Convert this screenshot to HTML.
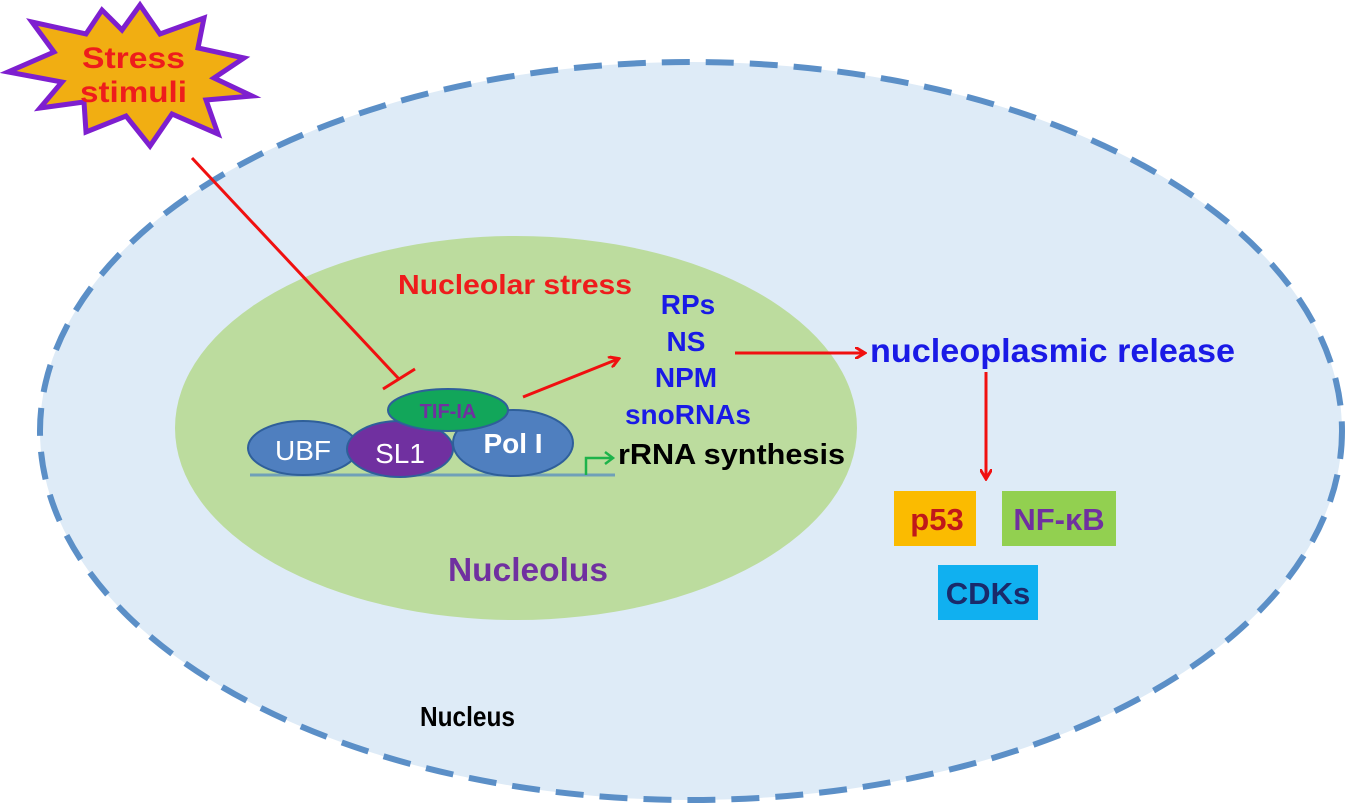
<!DOCTYPE html>
<html><head><meta charset="utf-8"><style>
body{margin:0;background:#fff;}
svg{display:block;font-family:"Liberation Sans",Arial,sans-serif;font-weight:bold;}
</style></head><body>
<svg width="1355" height="811" viewBox="0 0 1355 811" xmlns="http://www.w3.org/2000/svg">
<defs>
<marker id="ar" markerWidth="12" markerHeight="12" refX="9" refY="6" orient="auto" markerUnits="userSpaceOnUse"><path d="M0,0 L10,6 L0,12" fill="none" stroke="#f01010" stroke-width="3"/></marker>
</defs>
<ellipse cx="691" cy="431" rx="651" ry="369" fill="#deebf7" stroke="#5b8fc7" stroke-width="6" stroke-dasharray="28,16"/>
<ellipse cx="516" cy="428" rx="341" ry="192" fill="#bcdc9e"/>
<polygon points="140,5 160,34 204,18 198,48 244,58 214,78 252,96 206,100 218,134 172,114 150,146 126,116 86,132 84,102 40,108 62,82 8,72 54,52 32,22 86,34 102,10 122,30" fill="#f1ae12" stroke="#7e1fcf" stroke-width="5" stroke-linejoin="miter"/>
<text x="82" y="68" font-size="30" fill="#ee1c1c" textLength="103" lengthAdjust="spacingAndGlyphs">Stress</text>
<text x="80" y="102" font-size="30" fill="#ee1c1c" textLength="107" lengthAdjust="spacingAndGlyphs">stimuli</text>
<line x1="192" y1="158" x2="399" y2="379" stroke="#f01010" stroke-width="3"/>
<line x1="383" y1="389" x2="415" y2="369" stroke="#f01010" stroke-width="3"/>
<text x="398" y="294" font-size="28" fill="#ee1c1c" textLength="234" lengthAdjust="spacingAndGlyphs">Nucleolar stress</text>
<line x1="250" y1="475" x2="615" y2="475" stroke="#6fa0b8" stroke-width="3"/>
<ellipse cx="303" cy="448" rx="55" ry="27" fill="#4f7fbf" stroke="#2f5f9a" stroke-width="2"/>
<text x="303" y="460" font-size="28" font-weight="normal" fill="#fff" text-anchor="middle">UBF</text>
<ellipse cx="513" cy="443" rx="60" ry="33" fill="#4f7fbf" stroke="#2f5f9a" stroke-width="2"/>
<text x="513" y="453" font-size="28" fill="#fff" text-anchor="middle">Pol I</text>
<ellipse cx="400" cy="449" rx="53" ry="28" fill="#7030a0" stroke="#2f5f9a" stroke-width="2"/>
<text x="400" y="463" font-size="28" font-weight="normal" fill="#fff" text-anchor="middle">SL1</text>
<ellipse cx="448" cy="410" rx="60" ry="21" fill="#12a65a" stroke="#2f5f9a" stroke-width="2"/>
<text x="448" y="418" font-size="20" fill="#7030a0" text-anchor="middle">TIF-IA</text>
<polyline points="586,475 586,458 612,458" fill="none" stroke="#1db34a" stroke-width="2.5"/>
<path d="M605,452 L613,458 L605,464" fill="none" stroke="#1db34a" stroke-width="2.5"/>
<text x="618" y="464" font-size="29" fill="#000" textLength="227" lengthAdjust="spacingAndGlyphs">rRNA synthesis</text>
<line x1="523" y1="397" x2="618" y2="359" stroke="#f01010" stroke-width="3" marker-end="url(#ar)"/>
<g font-size="28" fill="#1a1ae6" text-anchor="middle">
<text x="688" y="314">RPs</text>
<text x="686" y="351">NS</text>
<text x="686" y="387">NPM</text>
<text x="688" y="424">snoRNAs</text>
</g>
<line x1="735" y1="353" x2="864" y2="353" stroke="#f01010" stroke-width="3" marker-end="url(#ar)"/>
<text x="870" y="362" font-size="33" fill="#1a1ae6" textLength="365" lengthAdjust="spacingAndGlyphs">nucleoplasmic release</text>
<line x1="986" y1="372" x2="986" y2="478" stroke="#f01010" stroke-width="3" marker-end="url(#ar)"/>
<rect x="894" y="491" width="82" height="55" fill="#fbbb00"/>
<text x="937" y="530" font-size="31" fill="#c0181a" text-anchor="middle">p53</text>
<rect x="1002" y="491" width="114" height="55" fill="#92d050"/>
<text x="1059" y="530" font-size="31" fill="#7030a0" text-anchor="middle">NF-κB</text>
<rect x="938" y="565" width="100" height="55" fill="#10b0f0"/>
<text x="988" y="604" font-size="31" fill="#1a2a6a" text-anchor="middle">CDKs</text>
<text x="448" y="581" font-size="33" fill="#7030a0" textLength="160" lengthAdjust="spacingAndGlyphs">Nucleolus</text>
<text x="420" y="726" font-size="28" fill="#000" textLength="95" lengthAdjust="spacingAndGlyphs">Nucleus</text>
</svg>
</body></html>
